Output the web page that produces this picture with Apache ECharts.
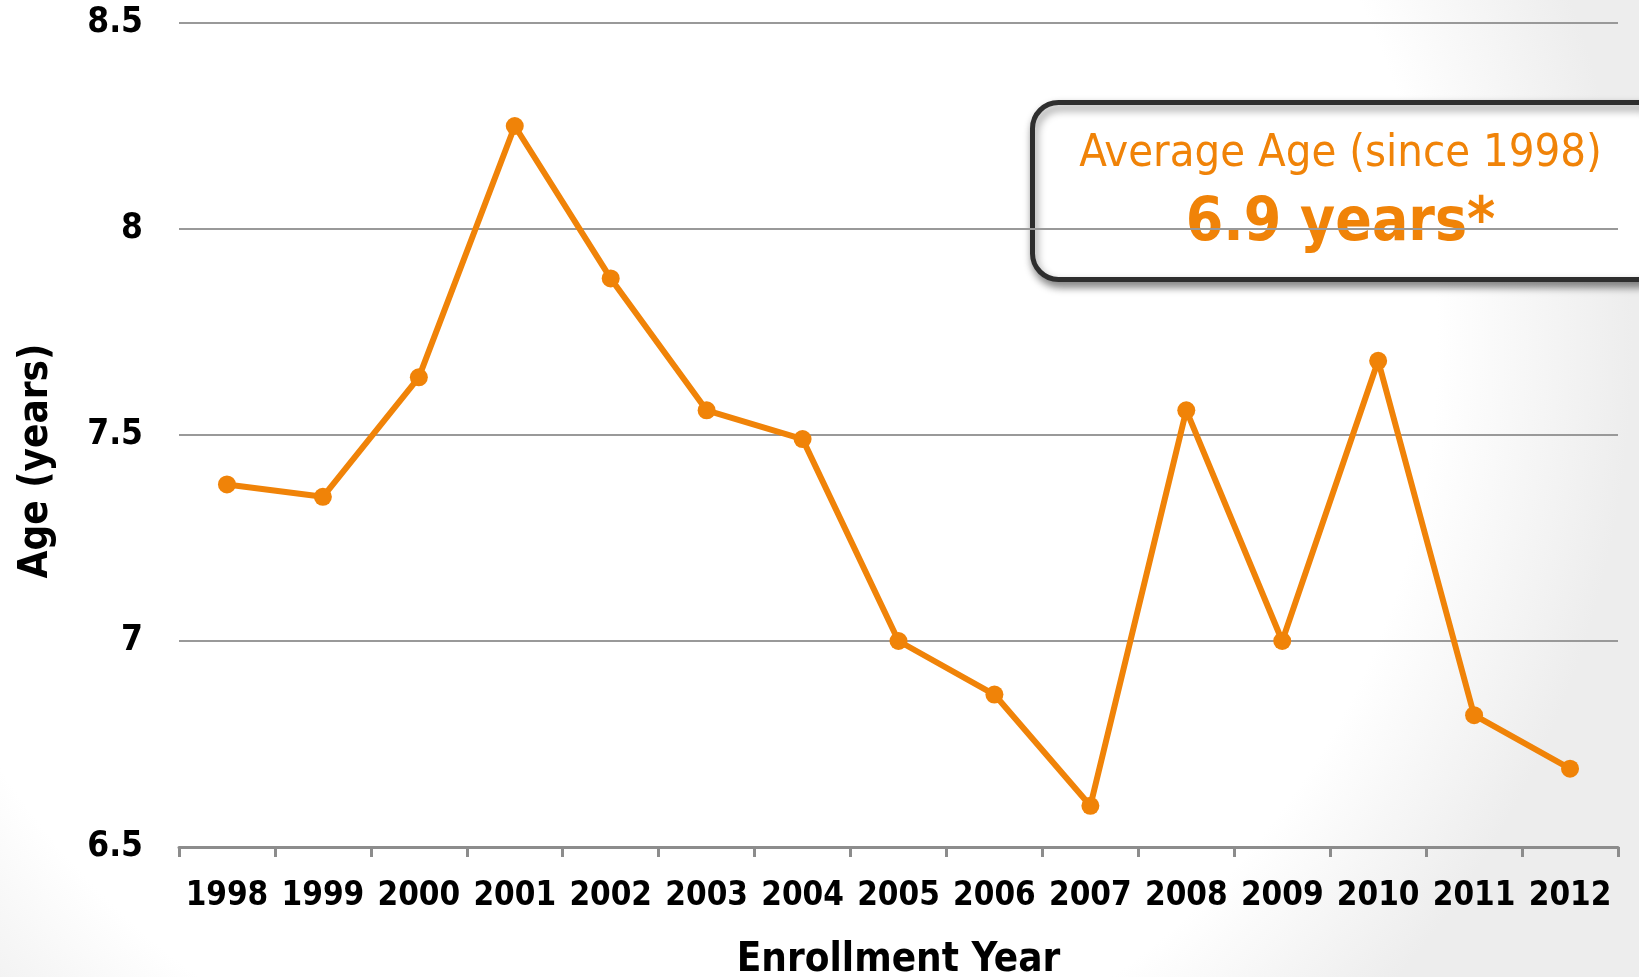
<!DOCTYPE html>
<html>
<head>
<meta charset="utf-8">
<script src="https://cdn.jsdelivr.net/npm/echarts@6/dist/echarts.min.js"></script>
<style>
html,body{margin:0;padding:0;background:#fff;}
#chart{width:1639px;height:977px;}
</style>
</head>
<body>
<div id="chart"></div>
<script>
const categories = ['1998','1999','2000','2001','2002','2003','2004','2005','2006','2007','2008','2009','2010','2011','2012'];
const ages = [7.38, 7.35, 7.64, 8.25, 7.88, 7.56, 7.49, 7.0, 6.87, 6.60, 7.56, 7.0, 7.68, 6.82, 6.69];
const yTicks = [6.5, 7, 7.5, 8, 8.5];
const calloutTitle = 'Average Age (since 1998)';
const calloutValue = '6.9 years*';

const FONT = '"Liberation Sans Narrow", "DejaVu Sans Condensed", "Liberation Sans", sans-serif';
const ORANGE = '#F08308';

const chart = echarts.init(document.getElementById('chart'));
chart.setOption({
  backgroundColor: {
    type: 'radial', x: 0.4, y: 0.35, r: 1.0,
    colorStops: [{offset: 0.8, color: '#ffffff'}, {offset: 1, color: '#ededed'}]
  },
  animation: false,
  grid: {left: 179, right: 21, top: 23, bottom: 130, containLabel: false, outerBoundsMode: 'none'},
  xAxis: {
    type: 'category',
    data: categories,
    boundaryGap: true,
    name: 'Enrollment Year',
    nameLocation: 'middle',
    nameGap: 94,
    nameTextStyle: {fontFamily: FONT, fontWeight: 'bold', fontSize: 40, color: '#000'},
    axisLine: {lineStyle: {color: '#8c8c8c', width: 3}},
    axisTick: {show: true, length: 10, lineStyle: {color: '#8c8c8c', width: 3}},
    axisLabel: {fontFamily: FONT, fontWeight: 'bold', fontSize: 33, color: '#000', margin: 33, interval: 0}
  },
  yAxis: {
    type: 'value',
    min: yTicks[0],
    max: yTicks[yTicks.length - 1],
    interval: 0.5,
    name: 'Age (years)',
    nameLocation: 'middle',
    nameGap: 122,
    nameTextStyle: {fontFamily: FONT, fontWeight: 'bold', fontSize: 40, color: '#000', padding: [0, 52, 0, 0]},
    axisLine: {show: false},
    axisTick: {show: false},
    axisLabel: {fontFamily: FONT, fontWeight: 'bold', fontSize: 35, color: '#000', margin: 36,
      formatter: v => String(v)},
    splitLine: {lineStyle: {color: '#999999', width: 2}}
  },
  series: [{
    type: 'line',
    data: ages,
    symbol: 'circle',
    symbolSize: 18,
    lineStyle: {color: ORANGE, width: 6},
    itemStyle: {color: ORANGE}
  }],
  graphic: [{
    type: 'group',
    left: 1030, top: 100,
    children: [{
      type: 'rect',
      shape: {x: 0, y: 0, width: 630, height: 177, r: 26},
      style: {fill: '#ffffff', stroke: '#2e2e2e', lineWidth: 5,
        shadowBlur: 8, shadowOffsetX: 2, shadowOffsetY: 5, shadowColor: 'rgba(0,0,0,0.45)'}
    }, {
      type: 'text',
      x: 308, y: 52,
      style: {text: calloutTitle, fill: ORANGE, font: '45px ' + FONT, align: 'center', verticalAlign: 'middle'}
    }, {
      type: 'text',
      x: 308, y: 122,
      style: {text: calloutValue, fill: ORANGE, font: 'bold 60px ' + FONT, align: 'center', verticalAlign: 'middle'}
    }]
  }]
});
</script>
</body>
</html>
